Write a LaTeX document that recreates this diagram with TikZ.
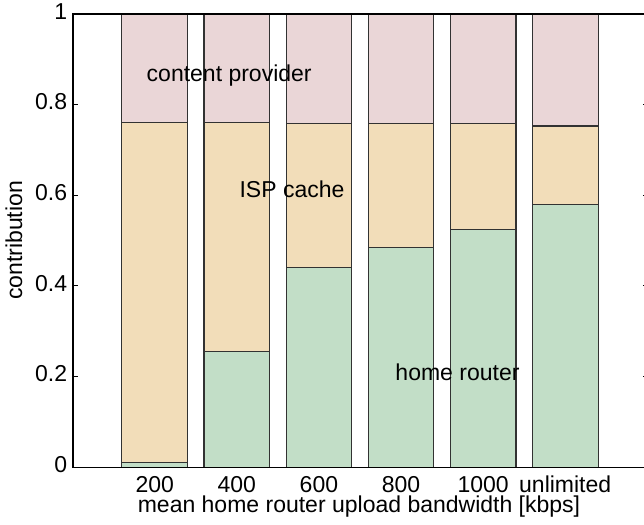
\documentclass[tikz,border=0pt]{standalone}
\usepackage{fontspec}
\setmainfont{Liberation Sans}
\definecolor{cprov}{RGB}{234,214,215}
\definecolor{cisp}{RGB}{242,221,185}
\definecolor{chome}{RGB}{194,222,199}
\definecolor{cedge}{RGB}{50,50,50}
\tikzset{
  barseg/.style={draw=cedge, line width=0.55pt},
  axisline/.style={draw=black, line width=0.75pt},
  lbl/.style={inner sep=0pt, anchor=base},
  ticklbl/.style={inner sep=0pt, anchor=mid east}
}
\begin{document}
\begin{tikzpicture}[x=0.5pt,y=-0.5pt, font=\fontsize{11.5}{13}\selectfont]
\useasboundingbox (0,0) rectangle (644,525);
\clip (0,0) rectangle (644,525);
% bars
\foreach \i/\g/\o/\t in {1/0.01/0.761/200, 2/0.256/0.761/400, 3/0.441/0.758/600, 4/0.484/0.758/800, 5/0.525/0.758/1000, 6/0.579/0.753/unlimited} {
  \pgfmathsetmacro\xc{154.7+82.1*(\i-1)}
  \pgfmathsetmacro\xl{\xc-32.85}
  \pgfmathsetmacro\xr{\xc+32.85}
  \pgfmathsetmacro\yg{467.3-453.3*\g}
  \pgfmathsetmacro\yo{467.3-453.3*\o}
  \draw[barseg, fill=chome] (\xl,467.3) rectangle (\xr,\yg);
  \draw[barseg, fill=cisp] (\xl,\yg) rectangle (\xr,\yo);
  \draw[barseg, fill=cprov] (\xl,\yo) rectangle (\xr,14);
  \node[lbl] (xt\i) at (\xc,492.7) {\t};
}
% axes
\draw[axisline] (73,14) rectangle (647.7,467.3);
\foreach \v/\s in {0/0, 0.2/0.2, 0.4/0.4, 0.6/0.6, 0.8/0.8, 1/1} {
  \pgfmathsetmacro\yy{467.3-453.3*\v}
  \draw[axisline, line width=0.5pt] (73,\yy) -- (78,\yy);
  \draw[axisline, line width=0.5pt] (647.7,\yy) -- (642.7,\yy);
  \node[ticklbl] (yt\s) at (67.5,\yy) {\s};
}
% labels
\node[lbl] (lprov) at (229.2,81.5) {content provider};
\node[lbl] (lisp) at (292,197.7) {ISP cache};
\node[lbl] (lhome) at (457.5,380) {home router};
\node[lbl] (xlab) at (359,512.7) {mean home router upload bandwidth [kbps]};
\node[inner sep=0pt, rotate=90] (ylab) at (14,240.5) {contribution};
\end{tikzpicture}
\end{document}
